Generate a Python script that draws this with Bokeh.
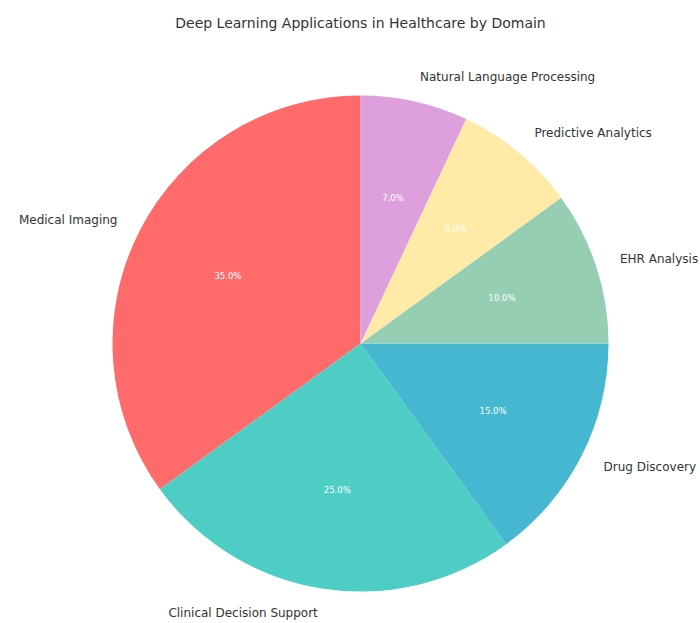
import numpy as np
from bokeh.plotting import figure
from bokeh.models import ColumnDataSource, Range1d
from bokeh.core.properties import value
from bokeh.embed import file_html
from bokeh.resources import INLINE

categories = ["Medical Imaging", "Clinical Decision Support", "Drug Discovery",
              "EHR Analysis", "Predictive Analytics", "Natural Language Processing"]
shares = [35, 25, 15, 10, 8, 7]
colors = ["#FF6B6B", "#4ECDC4", "#45B7D1", "#96CEB4", "#FFEAA7", "#DDA0DD"]

W, H = 700, 623
cx, cy, R = 360, 623 - 343, 248
FONT = "DejaVu Sans"

vals = np.array(shares, dtype=float)
frac = vals / vals.sum()
start = np.pi / 2 + 2 * np.pi * np.concatenate([[0], np.cumsum(frac)[:-1]])
end = start + 2 * np.pi * frac
mid = (start + end) / 2

src = ColumnDataSource(dict(start=start, end=end, color=colors,
                            x=[cx] * len(vals), y=[cy] * len(vals)))

p = figure(width=W, height=H, output_backend="svg", toolbar_location=None,
           x_range=Range1d(0, W), y_range=Range1d(0, H), min_border=0)
p.axis.visible = False
p.grid.visible = False
p.outline_line_color = None
p.background_fill_color = "white"

p.wedge(x="x", y="y", radius=R, start_angle="start", end_angle="end",
        fill_color="color", line_color=None, source=src)

lx = cx + 1.1 * R * np.cos(mid)
ly = cy + 1.1 * R * np.sin(mid)
align = ["right" if np.cos(m) < 0 else "left" for m in mid]
lsrc = ColumnDataSource(dict(x=lx, y=ly, t=categories, a=align))
p.text(x="x", y="y", text="t", text_align="a", text_baseline="middle",
       text_font=value(FONT), text_font_size="12px", text_color="#333333",
       source=lsrc)

px = cx + 0.6 * R * np.cos(mid)
py = cy + 0.6 * R * np.sin(mid)
psrc = ColumnDataSource(dict(x=px, y=py, t=[f"{f*100:.1f}%" for f in frac]))
p.text(x="x", y="y", text="t", text_align="center", text_baseline="middle",
       text_font=value(FONT), text_font_size="8.5px", text_color="white",
       source=psrc)

p.text(x=[cx], y=[H - 22], text=["Deep Learning Applications in Healthcare by Domain"],
       text_align="center", text_baseline="middle", text_font=value(FONT),
       text_font_size="14px", text_color="#333333")

open("out.html", "w").write(file_html(p, INLINE))
